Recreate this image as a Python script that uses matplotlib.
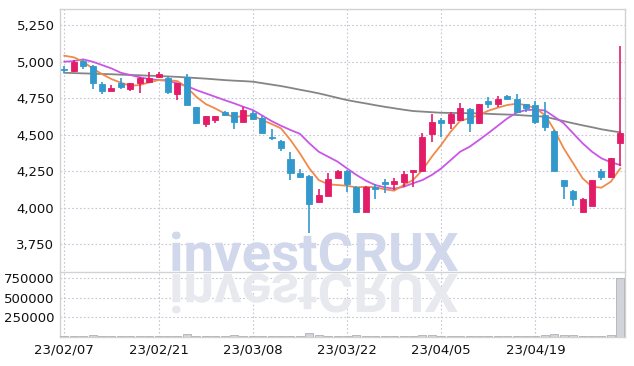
"""Candlestick chart with moving averages and volume, saved to out.png."""

import matplotlib

matplotlib.use("Agg")
import matplotlib.pyplot as plt
import matplotlib.transforms as mtransforms
from matplotlib.font_manager import FontProperties
from matplotlib.patches import PathPatch, Rectangle
from matplotlib.textpath import TextPath
from matplotlib.ticker import FuncFormatter

dates = [
    "23/02/07", "23/02/08", "23/02/09", "23/02/10", "23/02/13", "23/02/14", "23/02/15",
    "23/02/16", "23/02/17", "23/02/20", "23/02/21", "23/02/22", "23/02/23", "23/02/24",
    "23/02/27", "23/02/28", "23/03/02", "23/03/03", "23/03/06", "23/03/07", "23/03/08",
    "23/03/09", "23/03/10", "23/03/13", "23/03/14", "23/03/15", "23/03/16", "23/03/17",
    "23/03/20", "23/03/21", "23/03/22", "23/03/23", "23/03/24", "23/03/27", "23/03/28",
    "23/03/29", "23/03/30", "23/03/31", "23/04/03", "23/04/04", "23/04/05", "23/04/06",
    "23/04/07", "23/04/10", "23/04/11", "23/04/12", "23/04/13", "23/04/14", "23/04/17",
    "23/04/18", "23/04/19", "23/04/20", "23/04/21", "23/04/24", "23/04/25", "23/04/26",
    "23/04/27", "23/04/28", "23/05/02", "23/05/03",
]

opens = [4948, 4937, 5003, 4969, 4846, 4800, 4855, 4811, 4851, 4857,
         4896, 4885, 4775, 4896, 4686, 4572, 4600, 4652, 4652, 4588,
         4650, 4611, 4485, 4455, 4330, 4236, 4216, 4040, 4081, 4204,
         4250, 4142, 3971, 4142, 4177, 4159, 4177, 4245, 4252, 4501,
         4599, 4577, 4599, 4673, 4577, 4729, 4707, 4764, 4743, 4707,
         4702, 4634, 4524, 4188, 4113, 3971, 4012, 4250, 4211, 4444]
highs = [4969, 5010, 5008, 4975, 4862, 4840, 4885, 4855, 4892, 4928,
         4930, 4898, 4855, 4914, 4690, 4630, 4630, 4660, 4655, 4686,
         4660, 4625, 4536, 4460, 4378, 4266, 4220, 4125, 4238, 4255,
         4255, 4145, 4145, 4161, 4193, 4200, 4250, 4260, 4512, 4640,
         4611, 4656, 4714, 4680, 4712, 4759, 4764, 4768, 4775, 4712,
         4728, 4725, 4528, 4190, 4120, 4065, 4190, 4264, 4340, 5106]
lows = [4921, 4930, 4950, 4810, 4777, 4795, 4810, 4796, 4782, 4850,
        4885, 4780, 4736, 4700, 4575, 4553, 4577, 4625, 4536, 4585,
        4600, 4510, 4462, 4387, 4188, 4205, 3823, 4029, 4078, 4195,
        4108, 3960, 3968, 4056, 4097, 4120, 4142, 4142, 4248, 4447,
        4485, 4538, 4595, 4519, 4570, 4679, 4690, 4740, 4645, 4652,
        4575, 4526, 4252, 4056, 4012, 3960, 4010, 4188, 4200, 4285]
closes = [4940, 4999, 4971, 4850, 4800, 4816, 4828, 4850, 4889, 4889,
          4914, 4793, 4851, 4702, 4577, 4627, 4627, 4634, 4588, 4668,
          4606, 4512, 4478, 4410, 4234, 4211, 4024, 4086, 4193, 4250,
          4161, 3971, 4142, 4125, 4159, 4184, 4229, 4257, 4481, 4584,
          4577, 4640, 4679, 4577, 4709, 4707, 4743, 4743, 4652, 4679,
          4583, 4549, 4252, 4149, 4056, 4058, 4188, 4211, 4337, 4508]

ma_short = [5040, 5029, 4999, 4953, 4914, 4880, 4855, 4834, 4839, 4857,
            4873, 4873, 4866, 4823, 4759, 4709, 4679, 4645, 4618, 4627,
            4630, 4599, 4572, 4542, 4462, 4371, 4268, 4188, 4159, 4154,
            4149, 4138, 4142, 4138, 4125, 4115, 4154, 4188, 4257, 4348,
            4430, 4519, 4594, 4611, 4634, 4663, 4684, 4702, 4711, 4702,
            4679, 4634, 4531, 4405, 4303, 4200, 4142, 4136, 4177, 4268]
ma_mid = [4999, 5003, 5015, 4999, 4976, 4953, 4923, 4908, 4892, 4880,
          4873, 4868, 4851, 4832, 4805, 4782, 4759, 4736, 4714, 4690,
          4668, 4630, 4592, 4560, 4531, 4505, 4440, 4382, 4348, 4314,
          4268, 4223, 4184, 4154, 4138, 4129, 4142, 4166, 4188, 4223,
          4268, 4325, 4382, 4416, 4462, 4510, 4560, 4610, 4650, 4668,
          4670, 4665, 4622, 4577, 4508, 4440, 4382, 4337, 4310, 4291]
ma_long = [4923, 4921, 4919, 4917, 4915, 4913, 4910, 4908, 4906, 4903,
           4901, 4898, 4895, 4891, 4887, 4883, 4878, 4873, 4869, 4866,
           4862, 4852, 4842, 4832, 4820, 4807, 4795, 4782, 4767, 4751,
           4736, 4724, 4713, 4701, 4690, 4680, 4670, 4661, 4657, 4653,
           4649, 4648, 4647, 4646, 4645, 4642, 4639, 4637, 4634, 4630,
           4626, 4622, 4607, 4592, 4577, 4563, 4550, 4536, 4525, 4515]

volumes = [14000, 12000, 8000, 30000, 9000, 7000, 8000, 7000, 9000, 8000,
           9000, 8000, 12000, 40000, 18000, 10000, 9000, 10000, 22000, 12000,
           10000, 9000, 8000, 9000, 12000, 14000, 52000, 20000, 10000, 8000,
           9000, 26000, 18000, 10000, 8000, 14000, 16000, 18000, 30000, 28000,
           12000, 18000, 16000, 10000, 14000, 9000, 8000, 9000, 10000, 12000,
           16000, 26000, 40000, 24000, 22000, 14000, 12000, 16000, 20000, 755000]

price_ticks = [3750, 4000, 4250, 4500, 4750, 5000, 5250]
volume_ticks = [250000, 500000, 750000]

UP = "#e31c68"
DOWN = "#3399cc"
GRID = "#c6c6d6"
SPINE = "#d2d2d2"
LABEL_FONT = ["Liberation Sans Narrow", "DejaVu Sans"]

W, H = 634, 366


def main() -> None:
    fig = plt.figure(figsize=(W / 100, H / 100), dpi=100)
    ax = fig.add_axes([60 / W, 1 - 271 / H, 565 / W, 262 / H])
    axv = fig.add_axes([60 / W, 1 - 337 / H, 565 / W, 65 / H], sharex=ax)

    x = list(range(len(dates)))
    body_w = 0.64
    for i in x:
        o, h, l, c = opens[i], highs[i], lows[i], closes[i]
        color = UP if c >= o else DOWN
        ax.plot([i, i], [l, h], color=color, lw=1.2, zorder=3, solid_capstyle="butt")
        bottom = min(o, c)
        height = max(abs(c - o), 6)
        ax.add_patch(Rectangle((i - body_w / 2, bottom), body_w, height,
                               facecolor=color, edgecolor=color, lw=0.6, zorder=4))

    ax.plot(x, ma_long, color="#858585", lw=1.3, zorder=2)
    ax.plot(x, ma_mid, color="#c957e6", lw=1.3, zorder=2)
    ax.plot(x, ma_short, color="#f08a4b", lw=1.3, zorder=2)

    axv.bar(x, volumes, width=0.85, color="#d3d3da", edgecolor="#b0b0b8", lw=0.6, zorder=3)

    ax.set_xlim(-0.46, 59.5)
    ax.set_ylim(3565, 5360)
    axv.set_ylim(0, 833000)

    ax.set_yticks(price_ticks)
    ax.yaxis.set_major_formatter(FuncFormatter(lambda v, _: f"{v:,.0f}"))
    axv.set_yticks(volume_ticks)
    axv.yaxis.set_major_formatter(FuncFormatter(lambda v, _: f"{v:.0f}"))
    axv.set_xticks(x[::10])
    axv.set_xticklabels(dates[::10])
    ax.tick_params(axis="x", labelbottom=False, length=0)

    for a in (ax, axv):
        a.set_axisbelow(True)
        a.grid(True, color=GRID, linestyle=(0, (1.5, 2)), lw=0.8)
        a.tick_params(length=0, pad=4, labelsize=9.5, labelcolor="#111111")
        for lab in a.get_xticklabels() + a.get_yticklabels():
            lab.set_family(LABEL_FONT)
        for side in ("left", "right", "top", "bottom"):
            a.spines[side].set_color(SPINE)
            a.spines[side].set_linewidth(1.0)
    ax.spines["bottom"].set_visible(False)
    axv.tick_params(axis="x", pad=5)

    # watermark and its reflection
    prop = FontProperties(family=["Roboto", "DejaVu Sans"], weight="bold")
    tp = TextPath((0, 0), "investCRUX", size=50, prop=prop)
    cap = TextPath((0, 0), "X", size=50, prop=prop).get_extents().height
    ext = tp.get_extents()
    sx = 286 / ext.width
    sy = 38 / cap
    base = mtransforms.Affine2D().translate(-ext.x0, 0)
    t_main = base.frozen().scale(sx, sy).translate(172, H - 271)
    t_refl = base.frozen().scale(sx, -sy).translate(172, H - 274)
    ax.add_patch(PathPatch(tp, transform=t_main, facecolor="#d2d8ec",
                           edgecolor="none", zorder=1))
    axv.add_patch(PathPatch(tp, transform=t_refl, facecolor="#e8e9ef",
                            edgecolor="none", zorder=1))

    fig.savefig("out.png", dpi=100)


if __name__ == "__main__":
    main()
